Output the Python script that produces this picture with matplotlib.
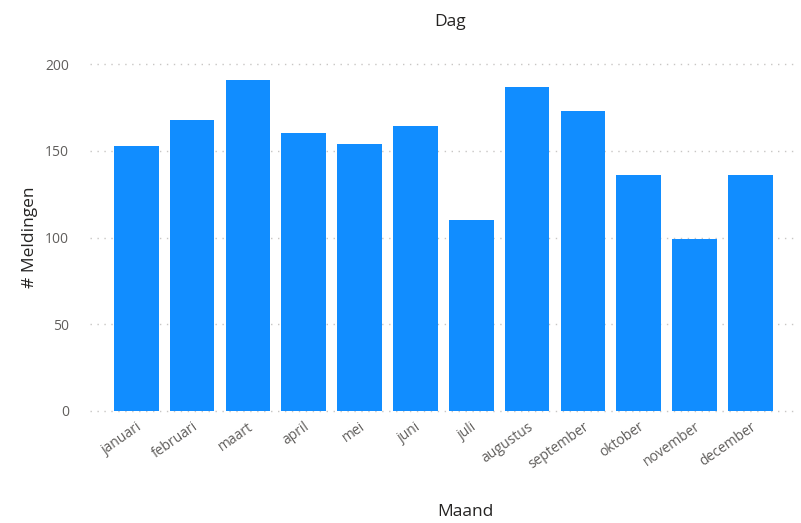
import matplotlib
matplotlib.use("Agg")
import matplotlib.pyplot as plt

months = ["januari", "februari", "maart", "april", "mei", "juni", "juli",
          "augustus", "september", "oktober", "november", "december"]
counts = [153, 168, 191, 160, 154, 164, 110, 187, 173, 136, 99, 136]
yticks = [0, 50, 100, 150, 200]

plt.rcParams['font.family'] = ['Open Sans', 'DejaVu Sans']

W, H = 801, 523
fig = plt.figure(figsize=(W / 100, H / 100), dpi=100)
left, right, top, bottom = 90, 795, 64, 411
ax = fig.add_axes([left / W, 1 - bottom / H, (right - left) / W, (bottom - top) / H])

x = list(range(len(months)))
ax.bar(x, counts, width=0.8, color="#118DFF", zorder=3)

ax.set_ylim(0, 200)
ax.set_xlim(-0.83, 11.8)
ax.set_yticks(yticks)
ax.set_yticklabels([str(v) for v in yticks])
ax.set_xticks(x)
ax.set_xticklabels(months, rotation=35, ha="right", rotation_mode="anchor")

ax.grid(axis="y", color="#C8C6C4", linestyle=(0, (1, 4)), linewidth=1, zorder=0)
for gl in ax.get_ygridlines():
    gl.set_clip_on(False)
ax.grid(axis="x", visible=False)

for s in ax.spines.values():
    s.set_visible(False)
ax.tick_params(axis="both", length=0, colors="#605E5C", labelsize=10)
ax.tick_params(axis="y", pad=15)
ax.tick_params(axis="x", pad=6)

fig.text(30 / W, 1 - 237 / H, "# Meldingen", fontsize=12.5, color="#252423",
         ha="center", va="center", rotation=90)
fig.text(465 / W, 1 - 512 / H, "Maand", fontsize=12.5, color="#252423",
         ha="center", va="center")
fig.text(450 / W, 1 - 22 / H, "Dag", fontsize=12.5, color="#252423",
         ha="center", va="center")

fig.savefig("out.png", dpi=100, facecolor="white")
